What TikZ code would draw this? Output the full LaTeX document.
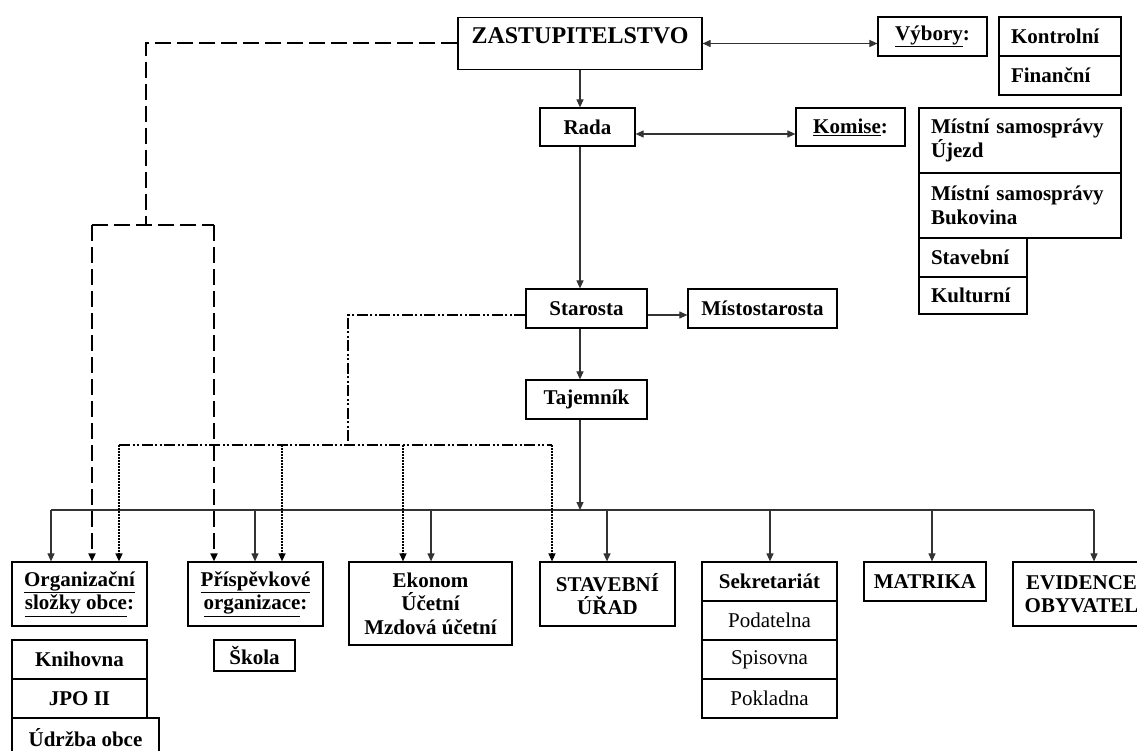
\documentclass[tikz,border=0pt]{standalone}
\usepackage{fontspec}
\setmainfont{Liberation Serif}
\usetikzlibrary{arrows.meta}

\begin{document}
\begin{tikzpicture}[x=1pt,y=-1pt,
  orgbox/.style={draw, line width=1.2pt, inner sep=0pt, align=center, font=\bfseries\fontsize{21}{23.5}\selectfont},
  leftbox/.style={orgbox, align=left},
  plainbox/.style={orgbox, font=\fontsize{21}{23.5}\selectfont},
  arr/.style={line width=1.1pt, black!80, -{Triangle[length=8pt,width=7pt]}},
  dblarr/.style={arr, {Triangle[length=8pt,width=7pt]}-{Triangle[length=8pt,width=7pt]}},
  dashline/.style={line width=1.8pt, dash pattern=on 16pt off 6pt},
  dotdash/.style={line width=2pt, dash pattern=on 11pt off 2.5pt on 2pt off 2.5pt on 2pt off 2.5pt},
  dotline/.style={line width=1.4pt, dash pattern=on 1.5pt off 1.5pt, -{Triangle[length=8pt,width=7pt]}}]
\useasboundingbox (0,0) rectangle (1137,751);

\node[orgbox, minimum width=244, minimum height=52, text height=0pt, text depth=0pt, font=\bfseries\fontsize{24}{26}\selectfont] (zast) at (580,43.5) {ZASTUPITELSTVO};
\node[orgbox, minimum width=109, minimum height=39] (vybory) at (932.5,36.5) {\underline{Výbory}:};
\node[leftbox, minimum width=122, minimum height=39, text width=98pt] (kontrolni) at (1060,36.5) {Kontrolní};
\node[leftbox, minimum width=122, minimum height=39, text width=98pt] (financni) at (1060,75.5) {Finanční};

\node[orgbox, minimum width=95, minimum height=38] (rada) at (587.5,127) {Rada};
\node[orgbox, minimum width=109, minimum height=38] (komise) at (850.5,127) {\underline{Komise}:};
\node[leftbox, minimum width=202, minimum height=65, text width=178pt] (ujezd) at (1020,140.5) {Místní samosprávy\\Újezd};
\node[leftbox, minimum width=202, minimum height=65, text width=178pt] (bukovina) at (1020,205.5) {Místní samosprávy\\Bukovina};
\node[leftbox, minimum width=108, minimum height=39, text width=84pt] (stavebni) at (973,257.5) {Stavební};
\node[leftbox, minimum width=108, minimum height=37, text width=84pt] (kulturni) at (973,295.5) {Kulturní};

\node[orgbox, minimum width=121, minimum height=39] (starosta) at (586.5,308.5) {Starosta};
\node[orgbox, minimum width=149, minimum height=39] (misto) at (762.5,308.5) {Místostarosta};
\node[orgbox, minimum width=121, minimum height=39] (tajemnik) at (586.5,399.5) {Tajemník};

\node[orgbox, minimum width=135, minimum height=64] (org) at (79.5,594) {\underline{Organizační}\\\underline{složky obce}:};
\node[orgbox, minimum width=135, minimum height=39] (knihovna) at (79.5,659.5) {Knihovna};
\node[orgbox, minimum width=135, minimum height=39] (jpo) at (79.5,698.5) {JPO II};
\node[orgbox, minimum width=147, minimum height=39] (udrzba) at (85.5,737.5) {Údržba obce};

\node[orgbox, minimum width=135, minimum height=64] (prisp) at (255.5,594) {\underline{Příspěvkové}\\\underline{organizace}:};
\node[orgbox, minimum width=81, minimum height=31] (skola) at (254.5,655.5) {Škola};

\node[orgbox, minimum width=163, minimum height=83] (ekonom) at (430.5,603.5) {Ekonom\\Účetní\\Mzdová účetní};
\node[orgbox, minimum width=135, minimum height=64] (urad) at (607.5,594) {STAVEBNÍ\\ÚŘAD};

\node[orgbox, minimum width=135, minimum height=39] (sekr) at (769.5,581.5) {Sekretariát};
\node[plainbox, minimum width=135, minimum height=39] (podatelna) at (769.5,620.5) {Podatelna};
\node[plainbox, minimum width=135, minimum height=39] (spisovna) at (769.5,659.5) {Spisovna};
\node[plainbox, minimum width=135, minimum height=39] (pokladna) at (769.5,698.5) {Pokladna};

\node[orgbox, minimum width=122, minimum height=39] (matrika) at (925,581.5) {MATRIKA};
\node[orgbox, minimum width=137, minimum height=64] (evidence) at (1081.5,594) {EVIDENCE\\OBYVATEL};

\draw[dblarr] (zast.east) -- (zast.east -| vybory.west);
\draw[dblarr] ([yshift=-7pt]rada.east) -- ([yshift=-7pt]rada.east -| komise.west);
\draw[arr] (zast.south) -- (zast.south |- rada.north);
\draw[arr] (rada.south -| zast) -- (starosta.north -| zast);
\draw[arr] (starosta.south -| zast) -- (tajemnik.north -| zast);
\draw[arr] ([yshift=-6.5pt]starosta.east) -- ([yshift=-6.5pt]starosta.east -| misto.west);

\coordinate (b1) at (51,510);
\coordinate (b2) at (1094,510);
\draw[line width=1.1pt, black!80] (b1) -- (b2);
\draw[arr] (tajemnik.south -| zast) -- (zast |- b1);
\foreach \x/\t in {51/org,255/prisp,431/ekonom,607/urad,770/sekr,932/matrika,1094/evidence}
  \draw[arr] (\x,510) -- (\x,510 |- \t.north);

\coordinate (d1) at (146,43);
\coordinate (d2) at (146,225);
\coordinate (d3) at (92,225);
\coordinate (d4) at (214,225);
\draw[dashline] (zast.west |- d1) -- (d1) -- (d2);
\draw[dashline] (d3) -- (d4);
\draw[dashline, -{Triangle[length=8pt,width=7pt]}] (d3) -- (d3 |- org.north);
\draw[dashline, -{Triangle[length=8pt,width=7pt]}] (d4) -- (d4 |- prisp.north);

\coordinate (s1) at (348,315);
\coordinate (s2) at (348,445);
\coordinate (s3) at (119,445);
\coordinate (s4) at (552,445);
\draw[dotdash] ([yshift=-6.5pt]starosta.west) -- (s1) -- (s2);
\draw[dotdash] (s3) -- (s4);
\foreach \x/\t in {119/org,282/prisp,403/ekonom,552/urad}
  \draw[dotline] (\x,445) -- (\x,445 |- \t.north);
\end{tikzpicture}
\end{document}
